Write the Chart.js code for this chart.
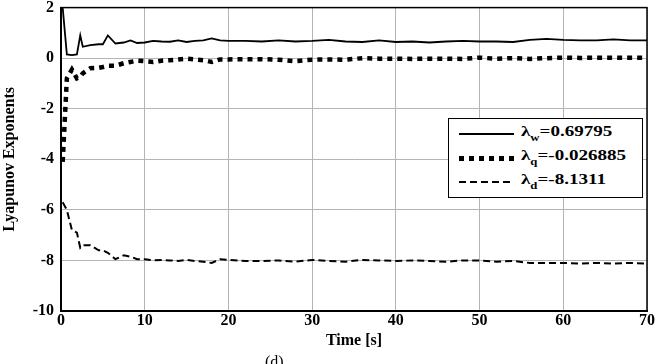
<!DOCTYPE html>
<html lang="en">
<head>
  <meta charset="UTF-8">
  <title>Lyapunov Exponents</title>
  <script src="https://cdn.jsdelivr.net/npm/chart.js"></script>
  <style>
    * {
      margin: 0;
      padding: 0;
      box-sizing: border-box;
    }

    body {
      width: 657px;
      height: 364px;
      overflow: hidden;
      background: #fff;
      font-family: "Liberation Serif", "Times New Roman", serif;
    }

    .wrap {
      position: relative;
      width: 657px;
      height: 364px;
      overflow: hidden;
    }

    /* canvas is a bit taller and pulled up so the plot can start near the top edge */
    #lyap {
      position: absolute;
      left: 0;
      top: -9px;
    }

    /* legend box inside the plot, like the original figure */
    .legend {
      position: absolute;
      left: 448px;
      top: 118px;
      width: 195px;
      height: 80px;
      border: 1.5px solid #000;
      background: #fff;
      padding-top: 3px;
    }

    .legend .row {
      position: relative;
      height: 24px;
    }

    .legend .sw {
      position: absolute;
      left: 10px;
      width: 55px;
      top: 50%;
    }

    .sw.solid { height: 2px; margin-top: -1px; background: #000; }
    .sw.dot {
      height: 5px; margin-top: -2px;
      background: repeating-linear-gradient(90deg, #000 0 5px, transparent 5px 10px);
    }
    .sw.dash {
      height: 2px; margin-top: -1px;
      background: repeating-linear-gradient(90deg, #000 0 7px, transparent 7px 11px);
    }

    .legend .lbl {
      position: absolute;
      left: 72px;
      top: 1px;
      font-size: 15px;
      font-weight: bold;
      white-space: nowrap;
      transform: scaleX(1.27);
      transform-origin: left center;
    }

    .legend sub {
      font-size: 10px;
      vertical-align: -5px;
    }

    .caption {
      position: absolute;
      left: 265px;
      top: 353px;
      font-size: 16px;
    }
  </style>
</head>
<body>
  <div class="wrap">
    <canvas id="lyap" width="657" height="373"></canvas>
    <div class="legend">
      <div class="row"><span class="sw solid"></span><span class="lbl">&lambda;<sub>w</sub>=0.69795</span></div>
      <div class="row"><span class="sw dot"></span><span class="lbl">&lambda;<sub>q</sub>=-0.026885</span></div>
      <div class="row"><span class="sw dash"></span><span class="lbl">&lambda;<sub>d</sub>=-8.1311</span></div>
    </div>
    <div class="caption">(d)</div>
  </div>

  <script>
    // time samples [s]
    const time = [0.2, 0.7, 1.3, 1.9, 2.3, 2.6, 3.5, 4.5, 5.0, 5.6,
                  6.5, 7.5, 8.3, 9.1, 10,
                  11, 12, 13, 14, 15, 16, 17, 18, 19, 20,
                  22, 24, 26, 28, 30, 32, 34, 36, 38, 40, 42, 44, 46, 48, 50,
                  52, 54, 56, 58, 60, 62, 64, 66, 68, 70];

    const lambdaW = [2.0, 0.15, 0.12, 0.15, 0.9, 0.45, 0.52, 0.55, 0.55, 0.9,
                     0.58, 0.62, 0.7, 0.6, 0.62,
                     0.68, 0.66, 0.65, 0.7, 0.64, 0.68, 0.7, 0.78, 0.7, 0.68,
                     0.68, 0.66, 0.7, 0.66, 0.68, 0.72, 0.66, 0.64, 0.7, 0.64, 0.66, 0.62, 0.66, 0.68, 0.66,
                     0.66, 0.64, 0.72, 0.76, 0.72, 0.7, 0.7, 0.74, 0.7, 0.7];

    const lambdaQ = [-4.1, -0.8, -0.45, -0.8, -0.75, -0.6, -0.4, -0.38, -0.35, -0.3,
                     -0.3, -0.2, -0.15, -0.1, -0.12,
                     -0.15, -0.1, -0.08, -0.05, -0.02, -0.05, -0.08, -0.15, -0.05, -0.05,
                     -0.04, -0.04, -0.06, -0.12, -0.06, -0.05, -0.06, 0.0, -0.02, -0.02, -0.03, -0.02, -0.02, -0.03, 0.02,
                     -0.02, 0.0, -0.03, 0.0, 0.02, 0.01, 0.02, 0.02, 0.02, 0.02];

    const lambdaD = [-5.7, -6.0, -6.8, -6.9, -7.5, -7.4, -7.4, -7.6, -7.6, -7.7,
                     -7.95, -7.8, -7.85, -7.95, -7.95,
                     -8.0, -7.98, -8.0, -8.02, -7.98, -8.02, -8.05, -8.1, -7.95, -7.98,
                     -8.02, -8.02, -8.0, -8.05, -7.98, -8.02, -8.05, -7.98, -8.0, -8.02, -8.0, -8.02, -8.05, -8.0, -8.0,
                     -8.05, -8.02, -8.1, -8.1, -8.1, -8.12, -8.1, -8.12, -8.1, -8.13];

    const xTicks = [0, 10, 20, 30, 40, 50, 60, 70];
    const yTicks = [-10, -8, -6, -4, -2, 0, 2];

    const pts = (ys) => time.map((t, i) => ({ x: t, y: ys[i] }));

    // black frame round the plot area
    const frame = {
      id: 'frame',
      afterDatasetsDraw(chart) {
        const a = chart.chartArea;
        const ctx = chart.ctx;
        ctx.save();
        ctx.strokeStyle = '#000';
        ctx.lineWidth = 1.5;
        ctx.strokeRect(a.left, a.top, a.right - a.left, a.bottom - a.top);
        ctx.restore();
      }
    };

    const tickFont = { family: 'Liberation Serif', size: 16, weight: 'bold' };

    new Chart(document.getElementById('lyap'), {
      type: 'line',
      data: {
        datasets: [
          { label: 'λw', data: pts(lambdaW), borderColor: '#000', borderWidth: 1.8 },
          { label: 'λq', data: pts(lambdaQ), borderColor: '#000', borderWidth: 4.5, borderDash: [5, 5] },
          { label: 'λd', data: pts(lambdaD), borderColor: '#000', borderWidth: 2, borderDash: [7, 4] }
        ]
      },
      options: {
        responsive: false,
        animation: false,
        devicePixelRatio: 1,
        elements: { point: { radius: 0 }, line: { tension: 0 } },
        layout: { padding: { top: 6, right: 10, left: 0, bottom: 13 } },
        plugins: { legend: { display: false }, tooltip: { enabled: false } },
        scales: {
          x: {
            type: 'linear',
            min: 0,
            max: 70,
            afterBuildTicks: (s) => { s.ticks = xTicks.map(v => ({ value: v })); },
            afterFit: (s) => { s.height = 40; },
            ticks: { color: '#000', font: tickFont, padding: 0, maxRotation: 0 },
            grid: { color: '#b4b4b4', lineWidth: 1, drawTicks: false },
            border: { color: '#000', width: 2 },
            title: { display: true, text: 'Time [s]', color: '#000', font: tickFont, padding: { top: 0, bottom: 1 } }
          },
          y: {
            min: -10,
            max: 2,
            afterBuildTicks: (s) => { s.ticks = yTicks.map(v => ({ value: v })); },
            afterFit: (s) => { s.width = 61; },
            ticks: { color: '#000', font: tickFont, padding: 7 },
            grid: { color: '#b4b4b4', lineWidth: 1, drawTicks: false },
            border: { color: '#000', width: 2 },
            title: { display: true, text: 'Lyapunov Exponents', color: '#000',
                     font: { family: 'Liberation Serif', size: 16, weight: 'bold' }, padding: { top: 0, bottom: 0 } }
          }
        }
      },
      plugins: [frame]
    });
  </script>
</body>
</html>
